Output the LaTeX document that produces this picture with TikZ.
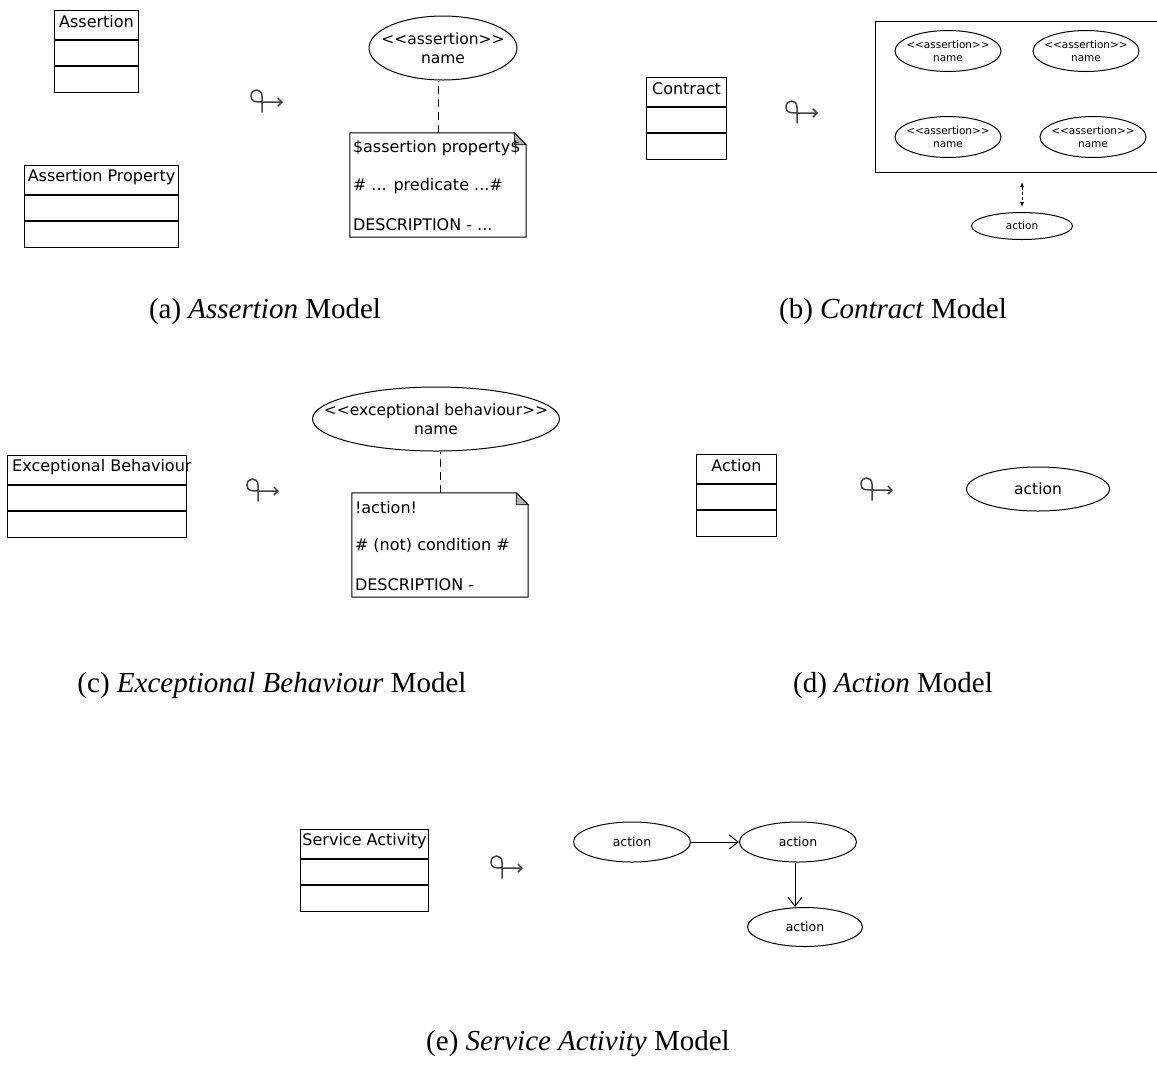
\documentclass[tikz,border=0pt]{standalone}
\usepackage{fontspec}
\setmainfont{Liberation Serif}
\newfontfamily\umlfont{DejaVu Sans}
\usetikzlibrary{shapes.geometric,arrows.meta}

\tikzset{
  classbox/.style={draw, line width=1pt, minimum height=82, inner sep=0pt, anchor=north west},
  classsep/.style={line width=2.4pt},
  classname/.style={font=\umlfont\fontsize{16}{18}\selectfont, inner sep=0pt},
  usecase/.style={draw, ellipse, line width=1pt, inner sep=0pt},
  uclabel/.style={inner sep=0pt, align=center, font=\umlfont\fontsize{15.5}{19}\selectfont},
  smalllabel/.style={uclabel, font=\umlfont\fontsize{10.5}{12.5}\selectfont},
  notebox/.style={minimum width=176, minimum height=104, inner sep=0pt},
  noteline/.style={anchor=west, inner sep=0pt, font=\umlfont\fontsize{16}{18}\selectfont},
  caption/.style={font=\fontsize{29}{34}\selectfont, inner sep=0pt},
  attach/.style={dashed, dash pattern=on 8pt off 5pt, line width=1pt},
  flow/.style={-{Straight Barb[length=9pt,width=14pt]}, line width=1pt},
  sync/.style={{Latex[length=5pt,width=4pt]}-{Latex[length=5pt,width=4pt]},
    dash pattern=on 3pt off 2pt, line width=0.8pt},
  maps/.pic={
    \draw[line width=1.5pt, black!75, line cap=round, -{Straight Barb[length=4pt,width=8pt]}]
      (-4,11) -- (-4,-5) .. controls (-4,-13) and (-15,-13) .. (-15,-5)
      .. controls (-15,1) and (-10,1) .. (-4,1) -- (17,1);
  },
}

% class box: [title options] name, left, top, width, title
\newcommand{\umlclass}[6][]{%
  \node[classbox, minimum width=#5] (#2) at (#3,#4) {};
  \node[classname, #1] (#2-title) at ([yshift=-12pt]#2.north) {#6};
  \draw[classsep] ([yshift=-30pt]#2.north west) -- ([yshift=-30pt]#2.north east);
  \draw[classsep] ([yshift=-56pt]#2.north west) -- ([yshift=-56pt]#2.north east);
}
% note outline with folded corner
\newcommand{\umlnote}[1]{%
  \draw[line width=1pt] (#1.north west) -- ([xshift=-12pt]#1.north east)
    -- ([yshift=-12pt]#1.north east) -- (#1.south east) -- (#1.south west) -- cycle;
  \draw[fill=black!30, line width=0.8pt] ([xshift=-12pt]#1.north east)
    -- ([xshift=-12pt,yshift=-12pt]#1.north east) -- ([yshift=-12pt]#1.north east) -- cycle;
}

\begin{document}
\begin{tikzpicture}[x=1pt,y=-1pt]
\useasboundingbox (0,0) rectangle (1157,1072);

% (a) assertion
\umlclass{assertion}{54}{10}{84}{Assertion}
\umlclass{assertion-prop}{24}{165}{154}{Assertion Property}
\pic (maps-a) at (266,101) {maps};
\node[usecase, minimum width=148, minimum height=64] (assertion-uc) at (443,48) {};
\node[uclabel] (assertion-uc-text) at (assertion-uc) {<{}<assertion>{}>\\name};
\node[notebox] (assertion-note) at (438,185) {};
\umlnote{assertion-note}
\node[noteline] (an-1) at ([xshift=3pt,yshift=-15pt]assertion-note.north west) {\$assertion property\$};
\node[noteline] (an-2) at ([xshift=3pt,yshift=-53pt]assertion-note.north west) {\# ... predicate ...\#};
\node[noteline] (an-3) at ([xshift=3pt,yshift=-92pt]assertion-note.north west) {DESCRIPTION - ...};
\draw[attach] (assertion-note.north) -- (assertion-note.north |- assertion-uc.south);
\node[caption] (cap-a) at (265,312) {(a) \textit{Assertion} Model};

% (b) contract
\umlclass{contract}{646}{77}{80}{Contract}
\pic (maps-b) at (801,112) {maps};
\draw[line width=1pt] (1162,21) -| (875,172) -- (1162,172);
\node[usecase, minimum width=106, minimum height=41] (ca-1) at (948,51) {};
\node[usecase, minimum width=106, minimum height=41] (ca-2) at (1086,51) {};
\node[usecase, minimum width=106, minimum height=41] (ca-3) at (948,137) {};
\node[usecase, minimum width=106, minimum height=41] (ca-4) at (1093,137) {};
\foreach \n in {1,...,4}
  \node[smalllabel] (ca-\n-text) at (ca-\n) {<{}<assertion>{}>\\name};
\coordinate (contract-box-south) at (1016,172);
\node[usecase, minimum width=101, minimum height=27] (contract-act) at (1022,226) {};
\node[smalllabel] (contract-act-text) at (contract-act) {action};
\draw[sync, shorten <=10pt, shorten >=5pt] (contract-act.north |- contract-box-south) -- (contract-act.north);
\node[caption] (cap-b) at (893,312) {(b) \textit{Contract} Model};

% (c) exceptional behaviour
\umlclass[anchor=west, xshift=-85pt]{exbeh}{7}{455}{179}{Exceptional Behaviour}
\pic (maps-c) at (262,490) {maps};
\node[usecase, minimum width=247, minimum height=64] (exbeh-uc) at (436,419) {};
\node[uclabel] (exbeh-uc-text) at (exbeh-uc) {<{}<exceptional behaviour>{}>\\name};
\node[notebox] (exbeh-note) at (440,545) {};
\umlnote{exbeh-note}
\node[noteline] (en-1) at ([xshift=3pt,yshift=-15pt]exbeh-note.north west) {!action!};
\node[noteline] (en-2) at ([xshift=3pt,yshift=-53pt]exbeh-note.north west) {\# (not) condition \#};
\node[noteline] (en-3) at ([xshift=3pt,yshift=-92pt]exbeh-note.north west) {DESCRIPTION -};
\draw[attach] (exbeh-note.north) -- (exbeh-note.north |- exbeh-uc.south);
\node[caption] (cap-c) at (272,686) {(c) \textit{Exceptional Behaviour} Model};

% (d) action
\umlclass{action}{696}{454}{80}{Action}
\pic (maps-d) at (876,489) {maps};
\node[usecase, minimum width=143, minimum height=44] (action-uc) at (1038,489) {};
\node[uclabel] (action-uc-text) at (action-uc) {action};
\node[caption] (cap-d) at (893,686) {(d) \textit{Action} Model};

% (e) service activity
\umlclass{activity}{300}{829}{128}{Service Activity}
\pic (maps-e) at (506,867) {maps};
\node[usecase, minimum width=117, minimum height=40] (act-1) at (632,842) {};
\node[usecase, minimum width=117, minimum height=40] (act-2) at (798,842) {};
\node[usecase, minimum width=115, minimum height=39] (act-3) at (805,927) {};
\foreach \n in {1,2,3}
  \node[uclabel, font=\umlfont\fontsize{12.5}{15}\selectfont] (act-\n-text) at (act-\n) {action};
\draw[flow] (act-1) -- (act-2);
\draw[flow] ([xshift=-3pt]act-2.south) -- ([xshift=-3pt]act-2.south |- act-3.north);
\node[caption] (cap-e) at (578,1044) {(e) \textit{Service Activity} Model};
\end{tikzpicture}
\end{document}
